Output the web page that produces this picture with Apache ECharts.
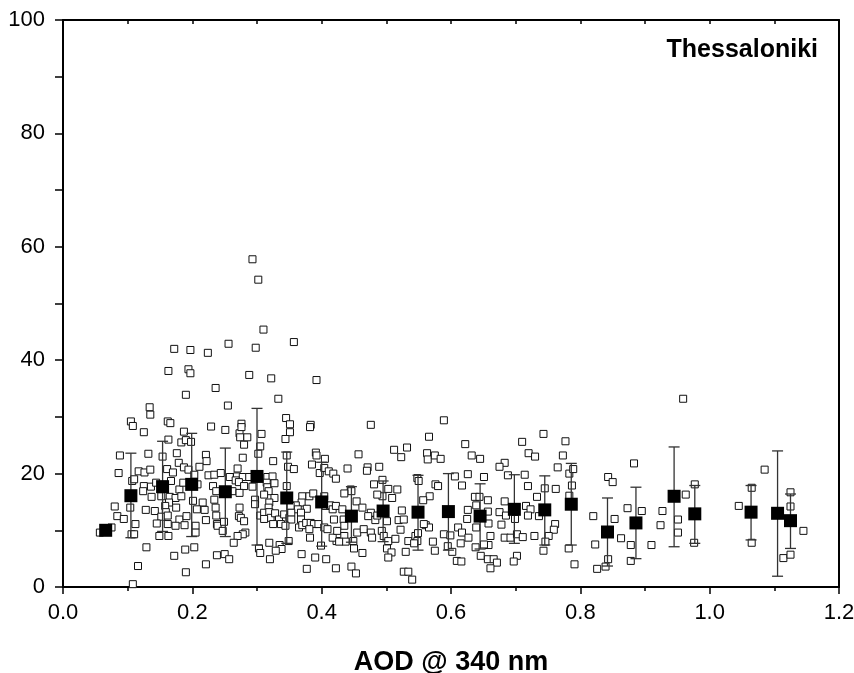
<!DOCTYPE html>
<html>
<head>
<meta charset="utf-8">
<script src="https://cdn.jsdelivr.net/npm/echarts@6/dist/echarts.min.js"></script>
<style>html,body{margin:0;padding:0;background:#fff;}#c{width:854px;height:673px;}</style>
</head>
<body>
<div id="c"></div>
<script>
// individual observations [AOD @ 340 nm, value]
const obsPoints = [
[0.190,33.9],[0.134,31.7],[0.135,30.4],[0.105,29.2],[0.108,28.4],[0.162,29.2],[0.166,28.9],[0.125,27.3],[0.229,28.3],[0.187,27.4],
[0.163,26.0],[0.183,25.5],[0.190,25.9],[0.198,25.6],[0.088,23.2],[0.132,23.5],[0.154,23.0],[0.176,23.6],[0.221,23.3],[0.222,22.2],
[0.179,21.9],[0.187,21.1],[0.194,20.7],[0.211,21.2],[0.086,20.1],[0.117,20.4],[0.126,20.2],[0.135,20.7],[0.161,20.8],[0.170,20.2],
[0.203,19.8],[0.225,19.7],[0.234,19.8],[0.107,18.7],[0.110,19.0],[0.167,18.7],[0.125,17.8],[0.136,17.7],[0.124,16.9],[0.144,18.4],
[0.180,17.2],[0.186,18.4],[0.208,18.1],[0.232,17.8],[0.237,16.9],[0.137,15.9],[0.152,16.0],[0.165,15.9],[0.174,15.7],[0.183,16.0],
[0.164,14.9],[0.158,14.3],[0.175,14.0],[0.201,15.2],[0.216,14.9],[0.234,15.4],[0.080,14.2],[0.104,14.0],[0.128,13.6],[0.142,13.4],
[0.159,13.2],[0.207,13.7],[0.219,13.6],[0.236,14.0],[0.084,12.5],[0.094,12.0],[0.152,12.4],[0.162,12.6],[0.180,11.9],[0.191,12.5],
[0.221,11.8],[0.237,12.6],[0.145,11.2],[0.162,11.1],[0.174,10.8],[0.188,10.9],[0.205,10.8],[0.238,11.1],[0.112,11.1],[0.057,9.6],
[0.075,10.5],[0.106,9.3],[0.110,9.3],[0.149,9.0],[0.163,9.0],[0.205,9.6],[0.129,7.0],[0.172,5.5],[0.189,6.6],[0.203,7.0],
[0.238,5.6],[0.116,3.7],[0.221,4.0],[0.190,2.6],[0.108,0.5],
[0.172,42.0],[0.197,41.8],[0.224,41.3],[0.256,42.9],[0.163,38.1],[0.194,38.4],[0.197,37.7],[0.288,37.4],[0.236,35.1],[0.255,32.0],
[0.251,27.7],[0.276,28.8],[0.273,27.1],[0.274,26.4],[0.280,25.1],[0.278,22.8],[0.285,26.4],
[0.333,33.2],[0.276,28.2],[0.307,27.0],[0.305,24.8],[0.302,23.5],[0.345,29.8],[0.351,28.7],[0.383,28.6],[0.382,28.2],[0.351,27.3],
[0.344,26.1],[0.325,22.2],[0.346,23.2],[0.348,21.2],[0.357,20.8],[0.391,23.7],[0.392,23.2],[0.385,21.6],[0.405,22.6],[0.397,20.1],
[0.404,21.0],[0.411,20.4],[0.418,20.0],[0.422,19.1],[0.270,20.9],[0.244,20.1],[0.258,19.4],[0.269,19.5],[0.278,19.4],[0.288,19.4],
[0.316,19.4],[0.324,19.5],[0.267,18.8],[0.272,18.5],[0.280,17.8],[0.293,17.7],[0.315,18.4],[0.316,17.6],[0.327,18.3],[0.262,16.9],
[0.273,16.6],[0.318,16.9],[0.327,15.7],[0.311,16.3],[0.297,15.4],[0.297,14.6],[0.319,14.9],[0.318,14.0],[0.346,17.8],[0.370,16.0],
[0.369,14.9],[0.381,16.0],[0.360,14.4],[0.363,13.7],[0.352,14.3],[0.377,13.8],[0.387,16.5],[0.404,16.0],[0.406,14.3],[0.413,14.4],
[0.417,13.7],[0.422,14.3],[0.239,10.8],[0.249,11.5],[0.247,9.9],[0.273,14.0],[0.272,12.5],[0.275,12.2],[0.280,11.6],[0.282,9.6],
[0.278,9.3],[0.270,9.0],[0.264,7.8],[0.305,12.6],[0.311,13.1],[0.319,13.2],[0.321,12.2],[0.328,13.0],[0.334,11.9],[0.337,11.1],
[0.325,11.1],[0.311,12.0],[0.342,12.8],[0.350,12.2],[0.353,13.1],[0.353,11.9],[0.344,10.8],[0.368,13.1],[0.368,11.9],[0.365,10.5],
[0.370,10.9],[0.376,11.3],[0.383,11.3],[0.388,11.1],[0.395,11.1],[0.404,10.5],[0.381,10.2],[0.382,8.7],[0.409,10.2],[0.419,11.9],
[0.423,8.1],[0.399,7.3],[0.349,8.1],[0.319,7.8],[0.335,7.4],[0.338,6.7],[0.329,6.4],[0.303,6.8],[0.305,6.0],[0.320,4.9],
[0.250,5.8],[0.257,4.9],[0.369,5.8],[0.390,5.2],[0.407,4.9],[0.377,3.2],
[0.293,57.8],[0.302,54.2],[0.310,45.4],[0.357,43.2],[0.298,42.2],[0.322,36.8],[0.392,36.5],
[0.476,28.6],[0.512,24.2],[0.523,22.9],[0.532,24.6],[0.563,23.6],[0.564,22.5],[0.566,26.5],
[0.589,29.4],[0.457,23.4],[0.575,23.2],[0.584,22.6],[0.440,20.9],[0.471,21.1],[0.470,20.5],[0.489,21.2],[0.494,18.9],[0.481,18.1],
[0.445,17.2],[0.446,16.9],[0.503,17.3],[0.517,17.2],[0.509,15.7],[0.494,16.0],[0.486,16.3],[0.548,19.2],[0.550,18.7],[0.576,18.1],
[0.580,17.8],[0.606,19.5],[0.567,16.0],[0.557,15.3],[0.435,16.5],[0.454,15.1],[0.463,14.0],[0.432,13.7],[0.434,11.9],[0.435,10.8],
[0.476,13.1],[0.472,12.5],[0.483,11.8],[0.486,12.6],[0.501,11.6],[0.524,13.5],[0.519,11.8],[0.527,11.9],[0.417,8.7],[0.424,9.9],
[0.435,9.0],[0.437,8.0],[0.427,8.0],[0.449,8.1],[0.450,6.8],[0.455,9.6],[0.465,10.2],[0.476,9.6],[0.478,8.7],[0.493,9.9],
[0.496,9.0],[0.503,8.1],[0.501,6.8],[0.508,6.1],[0.503,5.2],[0.522,10.1],[0.514,8.5],[0.530,6.2],[0.534,8.1],[0.545,9.0],
[0.548,8.1],[0.543,7.7],[0.561,10.9],[0.566,10.5],[0.558,11.1],[0.549,9.5],[0.572,8.0],[0.575,6.4],[0.589,9.3],[0.599,9.1],
[0.595,7.2],[0.602,6.2],[0.463,6.0],[0.422,3.3],[0.446,3.6],[0.453,2.4],[0.527,2.7],[0.534,2.7],[0.540,1.3],[0.609,4.6],
[0.743,27.0],[0.710,25.6],[0.777,25.7],[0.622,25.2],[0.632,23.2],[0.645,22.6],[0.720,23.6],[0.730,23.0],[0.773,23.2],[0.683,21.9],
[0.675,21.2],[0.765,21.1],[0.688,19.7],[0.714,19.8],[0.626,19.9],[0.651,19.4],[0.617,17.9],[0.719,17.8],[0.745,17.4],[0.762,17.3],
[0.783,20.0],[0.789,20.8],[0.787,17.9],[0.637,15.9],[0.644,15.9],[0.657,15.3],[0.683,15.1],[0.733,15.9],[0.783,16.1],[0.626,13.6],
[0.639,14.4],[0.657,13.3],[0.658,11.2],[0.675,13.2],[0.685,12.6],[0.716,14.3],[0.723,13.7],[0.719,12.6],[0.736,12.5],[0.699,12.0],
[0.625,12.0],[0.678,11.0],[0.639,10.5],[0.611,10.5],[0.617,9.6],[0.627,8.7],[0.615,7.7],[0.661,9.0],[0.658,7.4],[0.651,7.5],
[0.638,7.0],[0.683,8.7],[0.692,8.7],[0.702,9.3],[0.711,8.8],[0.729,9.0],[0.761,11.1],[0.759,10.1],[0.751,9.0],[0.746,8.0],
[0.743,6.4],[0.782,6.8],[0.646,5.5],[0.657,4.9],[0.666,4.9],[0.671,4.3],[0.661,3.3],[0.702,5.5],[0.697,4.5],[0.616,4.5],
[0.791,4.0],
[0.843,19.4],[0.850,18.5],[0.820,12.5],[0.853,12.0],[0.823,7.5],[0.843,4.9],[0.839,3.6],[0.826,3.2],
[0.959,33.2],[0.883,21.8],[1.085,20.7],[0.977,18.1],[0.963,16.3],[1.065,17.5],[1.125,16.7],[1.125,14.2],[1.045,14.3],[0.873,13.9],
[0.895,13.4],[0.927,13.4],[0.924,10.9],[0.951,11.9],[0.951,9.6],[0.863,8.6],[0.878,7.4],[0.910,7.4],[0.976,7.8],[1.065,7.8],
[1.145,9.9],[0.878,4.6],[1.114,5.1],[1.125,5.7]
];

// binned means and error-bar limits
const meanAOD  = [0.066,0.105,0.154,0.199,0.251,0.300,0.346,0.400,0.446,0.495,0.549,0.596,0.645,0.698,0.745,0.786,0.842,0.886,0.945,0.977,1.064,1.105,1.125];
const meanVal  = [10.0,16.1,17.7,18.1,16.8,19.5,15.7,15.0,12.5,13.4,13.2,13.3,12.5,13.7,13.6,14.6,9.7,11.3,16.0,12.9,13.2,13.0,11.7];
const errLow   = [10.0,8.7,9.8,8.9,8.9,7.4,7.7,7.2,7.9,8.0,6.5,6.5,6.7,7.7,7.4,7.4,3.7,5.0,7.1,7.7,8.3,1.9,6.8];
const errHigh  = [10.0,23.6,25.7,27.1,24.5,31.5,23.8,22.0,17.7,18.7,19.7,20.0,18.2,19.8,19.6,21.8,15.7,17.6,24.7,17.9,17.9,24.0,16.4];

const xTicks = [0, 1.2, 0.2];
const yTicks = [0, 100, 20];

const FONT = '"Liberation Sans", Arial, sans-serif';
const chart = echarts.init(document.getElementById('c'), null, {renderer: 'canvas'});

const meanData = meanAOD.map((x, i) => [x, meanVal[i]]);
const errData = meanAOD.map((x, i) => [x, errLow[i], errHigh[i]]);

chart.setOption({
  animation: false,
  backgroundColor: '#fff',
  grid: {left: 63, right: 15, top: 20, bottom: 86, containLabel: false, outerBoundsMode: 'none'},
  title: {
    text: 'Thessaloniki', right: 31, top: 33,
    textStyle: {fontFamily: FONT, fontWeight: 'bold', fontSize: 25, color: '#000'}
  },
  xAxis: [{
    type: 'value', min: xTicks[0], max: xTicks[1], interval: xTicks[2], position: 'bottom',
    name: 'AOD @ 340 nm', nameLocation: 'middle', nameGap: 62,
    nameTextStyle: {fontFamily: FONT, fontWeight: 'bold', fontSize: 27, color: '#000'},
    axisLine: {show: true, onZero: false, lineStyle: {color: '#000', width: 2}},
    axisTick: {show: true, inside: false, length: 7, lineStyle: {color: '#000', width: 1.5}},
    minorTick: {show: true, splitNumber: 2, length: 4, lineStyle: {color: '#000', width: 1.5}},
    splitLine: {show: false}, minorSplitLine: {show: false},
    axisLabel: {fontFamily: FONT, fontSize: 22, color: '#000', margin: 15, formatter: v => v.toFixed(1)}
  }, {
    type: 'value', min: xTicks[0], max: xTicks[1], interval: 0.1, position: 'top',
    axisLine: {show: true, onZero: false, lineStyle: {color: '#000', width: 2}},
    axisTick: {show: true, inside: true, length: 4, lineStyle: {color: '#000', width: 1.5}},
    axisLabel: {show: false}, splitLine: {show: false}
  }],
  yAxis: [{
    type: 'value', min: yTicks[0], max: yTicks[1], interval: yTicks[2], position: 'left',
    axisLine: {show: true, onZero: false, lineStyle: {color: '#000', width: 2}},
    axisTick: {show: true, inside: false, length: 8, lineStyle: {color: '#000', width: 1.5}},
    minorTick: {show: true, splitNumber: 2, length: 8, lineStyle: {color: '#000', width: 1.5}},
    splitLine: {show: false}, minorSplitLine: {show: false},
    axisLabel: {fontFamily: FONT, fontSize: 22, color: '#000', margin: 18}
  }, {
    type: 'value', min: yTicks[0], max: yTicks[1], position: 'right',
    axisLine: {show: true, onZero: false, lineStyle: {color: '#000', width: 2}},
    axisTick: {show: false}, axisLabel: {show: false}, splitLine: {show: false}
  }],
  series: [{
    type: 'scatter', name: 'obs', data: obsPoints, symbol: 'rect', symbolSize: 7,
    itemStyle: {color: '#fff', borderColor: '#111', borderWidth: 1, opacity: 1},
    z: 2, silent: true
  }, {
    type: 'custom', name: 'err', data: errData, z: 3, silent: true,
    encode: {x: 0, y: [1, 2]},
    renderItem: function (params, api) {
      const x = api.value(0);
      const lo = api.coord([x, api.value(1)]);
      const hi = api.coord([x, api.value(2)]);
      if (Math.abs(hi[1] - lo[1]) < 0.5) return null;
      const hw = 5.5;
      const style = {stroke: '#333', lineWidth: 1.3, fill: null};
      return {type: 'group', children: [
        {type: 'line', shape: {x1: lo[0], y1: lo[1], x2: hi[0], y2: hi[1]}, style: style},
        {type: 'line', shape: {x1: lo[0] - hw, y1: lo[1], x2: lo[0] + hw, y2: lo[1]}, style: style},
        {type: 'line', shape: {x1: hi[0] - hw, y1: hi[1], x2: hi[0] + hw, y2: hi[1]}, style: style}
      ]};
    }
  }, {
    type: 'scatter', name: 'mean', data: meanData, symbol: 'rect', symbolSize: 13,
    itemStyle: {color: '#000', opacity: 1}, z: 4, silent: true
  }]
});
</script>
</body>
</html>
